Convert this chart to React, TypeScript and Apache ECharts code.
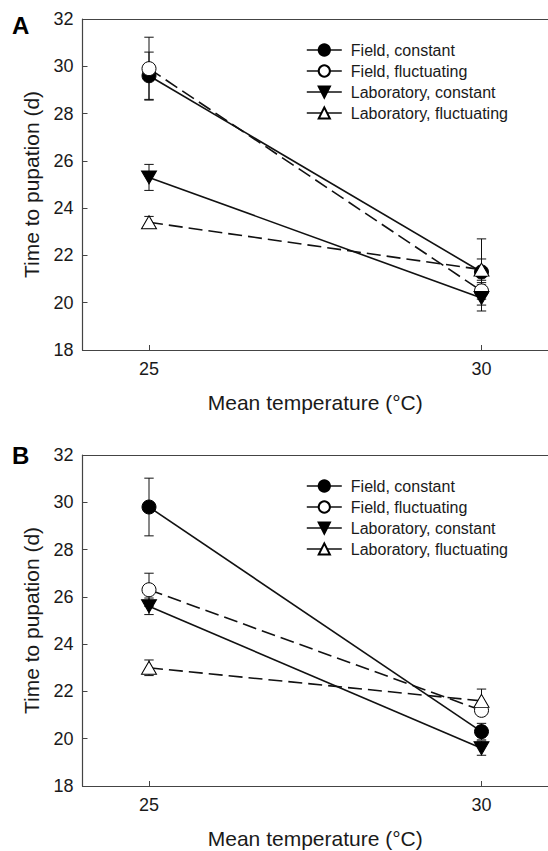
import React, { useEffect, useRef } from "react";
import * as echarts from "echarts";

const temperatures = [25, 30];
const seriesNames = ["Field, constant", "Field, fluctuating", "Laboratory, constant", "Laboratory, fluctuating"];
const yTicks = [18, 20, 22, 24, 26, 28, 30, 32];
const xTicks = [25, 30];

// Panel A
const aFieldConst = [29.6, 21.3];
const aFieldConstErr = [1.0, 1.4];
const aFieldFluct = [29.9, 20.5];
const aFieldFluctErr = [1.33, 0.35];
const aLabConst = [25.3, 20.2];
const aLabConstErr = [0.55, 0.55];
const aLabFluct = [23.4, 21.4];
const aLabFluctErr = [0.25, 0.45];

// Panel B
const bFieldConst = [29.8, 20.3];
const bFieldConstErr = [1.22, 0.35];
const bFieldFluct = [26.3, 21.2];
const bFieldFluctErr = [0.7, 0.2];
const bLabConst = [25.6, 19.6];
const bLabConstErr = [0.35, 0.3];
const bLabFluct = [23.0, 21.6];
const bLabFluctErr = [0.33, 0.5];

const FONT = "Liberation Sans, Arial, sans-serif";

const styles = [
  { symbol: "circle", size: 14, rotate: 0, fill: "#000", dash: "solid" },
  { symbol: "circle", size: 14, rotate: 0, fill: "#fff", dash: [14, 6] },
  { symbol: "triangle", size: [15, 13], rotate: 180, fill: "#000", dash: "solid" },
  { symbol: "triangle", size: [15, 13], rotate: 0, fill: "#fff", dash: [14, 6] },
];

function buildPanel(idx: number, vals: number[][], errs: number[][]) {
  const series: any[] = [];
  const errData: number[][] = [];
  vals.forEach((v, s) => {
    v.forEach((y, i) => errData.push([temperatures[i], y, errs[s][i]]));
  });
  series.push({
    type: "custom",
    name: "err" + idx,
    xAxisIndex: idx,
    yAxisIndex: idx,
    z: 1,
    data: errData,
    encode: { x: 0, y: 1 },
    renderItem: (params: any, api: any) => {
      const x = api.value(0);
      const y = api.value(1);
      const e = api.value(2);
      const t = api.coord([x, y + e]);
      const b = api.coord([x, y - e]);
      const hw = 4.7;
      const st = { stroke: "#111", lineWidth: 1 };
      return {
        type: "group",
        children: [
          { type: "line", shape: { x1: t[0], y1: t[1], x2: b[0], y2: b[1] }, style: st },
          { type: "line", shape: { x1: t[0] - hw, y1: t[1], x2: t[0] + hw, y2: t[1] }, style: st },
          { type: "line", shape: { x1: b[0] - hw, y1: b[1], x2: b[0] + hw, y2: b[1] }, style: st },
        ],
      };
    },
  });
  vals.forEach((v, s) => {
    const st = styles[s];
    series.push({
      type: "line",
      name: seriesNames[s],
      xAxisIndex: idx,
      yAxisIndex: idx,
      z: 3,
      data: v.map((y, i) => [temperatures[i], y]),
      symbol: st.symbol,
      symbolSize: st.size,
      symbolRotate: st.rotate,
      showAllSymbol: true,
      lineStyle: { color: "#111", width: 1.6, type: st.dash },
      itemStyle: { color: st.fill, borderColor: "#000", borderWidth: 1, opacity: 1 },
      emphasis: { disabled: true },
    });
  });
  return series;
}

const gridTops = [19, 455];

export default function App() {
  const ref = useRef<HTMLDivElement>(null);
  useEffect(() => {
    if (!ref.current) return;
    const chart = echarts.init(ref.current, null, { renderer: "svg" });
    const axisLine = { show: true, lineStyle: { color: "#444", width: 1.2 } };
    const xAxes: any[] = gridTops.map((_, i) => ({
      type: "value",
      gridIndex: i,
      min: 24,
      max: 31,
      axisLine,
      axisTick: { show: true, inside: true, length: 5, customValues: xTicks, lineStyle: { color: "#444" } },
      axisLabel: { customValues: xTicks, fontSize: 18, fontFamily: FONT, color: "#1a1a1a", margin: 10 },
      splitLine: { show: false },
      name: "Mean temperature (°C)",
      nameLocation: "middle",
      nameGap: 42,
      nameTextStyle: { fontSize: 21, fontFamily: FONT, color: "#1a1a1a" },
    }));
    // top frame lines
    gridTops.forEach((_, i) => {
      xAxes.push({
        type: "value",
        gridIndex: i,
        position: "top",
        min: 24,
        max: 31,
        axisLine,
        axisTick: { show: false },
        axisLabel: { show: false },
        splitLine: { show: false },
      });
    });
    const yAxes = gridTops.map((_, i) => ({
      type: "value",
      gridIndex: i,
      min: 18,
      max: 32,
      interval: 2,
      axisLine,
      axisTick: { show: true, inside: true, length: 5, lineStyle: { color: "#444" } },
      axisLabel: { fontSize: 18, fontFamily: FONT, color: "#1a1a1a", margin: 9, customValues: yTicks },
      splitLine: { show: false },
      name: "Time to pupation (d)",
      nameLocation: "middle",
      nameGap: 41,
      nameTextStyle: { fontSize: 21, fontFamily: FONT, color: "#1a1a1a" },
    }));
    const series = [
      ...buildPanel(0, [aFieldConst, aFieldFluct, aLabConst, aLabFluct], [aFieldConstErr, aFieldFluctErr, aLabConstErr, aLabFluctErr]),
      ...buildPanel(1, [bFieldConst, bFieldFluct, bLabConst, bLabFluct], [bFieldConstErr, bFieldFluctErr, bLabConstErr, bLabFluctErr]),
    ];
    chart.setOption({
      animation: false,
      grid: gridTops.map((t) => ({
        left: 82.5,
        top: t,
        width: 473,
        height: 331,
        show: false,
      })),
      xAxis: xAxes,
      yAxis: yAxes,
      legend: gridTops.map((t) => ({
        data: seriesNames,
        orient: "vertical",
        left: 301,
        top: t + 18,
        itemWidth: 35,
        itemHeight: 14,
        itemGap: 5,
        selectedMode: false,
        lineStyle: { type: "solid", width: 1.6, color: "#111" },
        textStyle: { fontSize: 16, fontFamily: FONT, color: "#1a1a1a", padding: [0, 0, 0, 4] },
      })),
      graphic: [
        { type: "text", left: 12, top: 13, style: { text: "A", font: `bold 24px ${FONT}`, fill: "#000" } },
        { type: "text", left: 12, top: 443, style: { text: "B", font: `bold 24px ${FONT}`, fill: "#000" } },
      ],
      series,
    });
    return () => chart.dispose();
  }, []);
  return <div ref={ref} style={{ position: "absolute", left: 0, top: 0, width: 548, height: 851 }} />;
}
